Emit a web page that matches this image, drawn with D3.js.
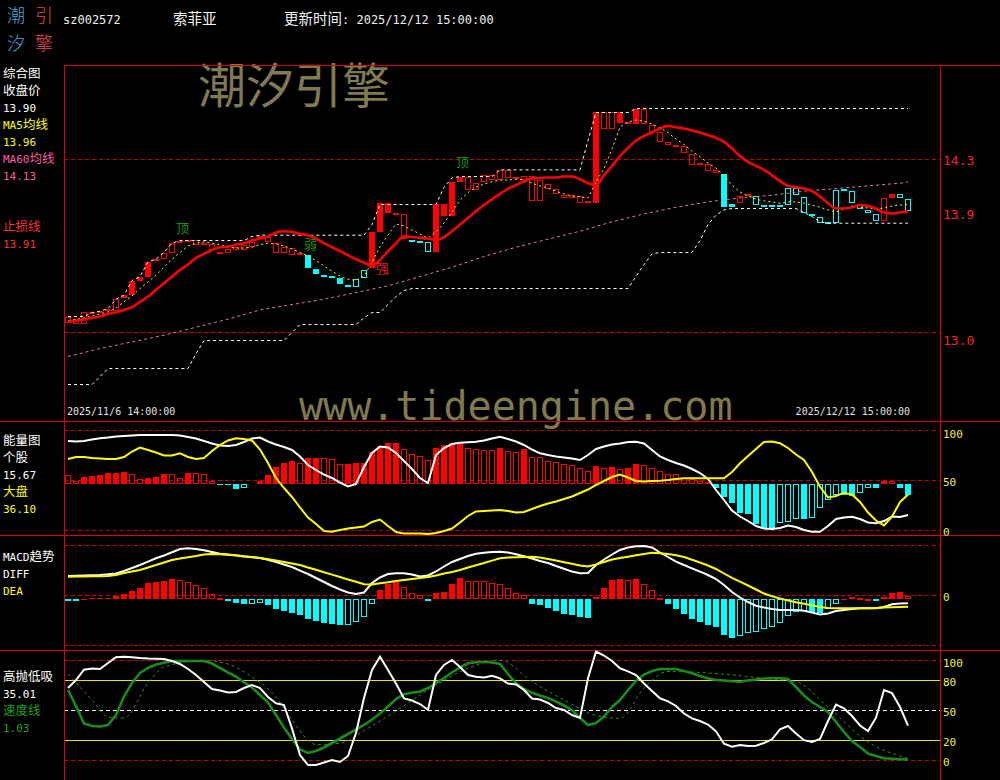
<!DOCTYPE html>
<html><head><meta charset="utf-8">
<script src="https://cdn.jsdelivr.net/npm/d3@7"></script>
<style>html,body{margin:0;padding:0;background:#000;overflow:hidden}</style>
</head><body>
<svg id="c" width="1000" height="780"></svg>
<script>
// ---------------- DATA ----------------
const stockCode = "sz002572";
const stockName = "索菲亚";
const updateText = "更新时间: 2025/12/12 15:00:00";
const startLabel = "2025/11/6 14:00:00";
const endLabel = "2025/12/12 15:00:00";

const openP = [
13.117,13.102,13.154,13.154,13.162,13.177,13.252,13.259,13.282,13.387,
13.417,13.552,13.597,13.672,13.687,13.679,13.694,13.672,13.664,13.604,
13.627,13.642,13.657,13.679,13.724,13.717,13.672,13.642,13.634,13.597,
13.582,13.477,13.432,13.424,13.409,13.357,13.342,13.409,13.484,13.754,
13.897,13.897,13.889,13.679,13.687,13.604,13.604,13.874,13.874,14.129,
14.167,14.122,14.182,14.182,14.219,14.219,14.167,14.174,14.174,14.144,
14.114,14.077,14.032,14.032,14.024,13.987,13.972,14.654,14.654,14.571,
14.579,14.564,14.677,14.556,14.504,14.429,14.407,14.399,14.339,14.272,
14.264,14.219,14.189,13.964,14.024,14.039,13.957,13.942,13.942,13.942,
13.957,14.032,13.897,13.889,13.822,13.814,13.822,14.062,13.972,13.927,
13.897,13.837,14.009,14.009,14.009,13.912];
const closeP = [
13.072,13.064,13.064,13.139,13.147,13.162,13.162,13.282,13.387,13.417,
13.529,13.537,13.552,13.597,13.672,13.694,13.657,13.657,13.619,13.589,
13.597,13.619,13.619,13.642,13.709,13.679,13.597,13.597,13.582,13.582,
13.484,13.439,13.417,13.409,13.364,13.342,13.402,13.469,13.754,13.972,
13.972,13.882,13.702,13.694,13.672,13.679,13.964,13.964,14.129,14.167,
14.069,14.069,14.129,14.144,14.144,14.159,14.152,14.144,13.987,13.987,
14.077,14.039,14.009,14.009,13.972,13.972,14.654,14.526,14.526,14.654,
14.564,14.677,14.564,14.504,14.429,14.407,14.392,14.346,14.257,14.257,
14.212,14.197,13.942,13.942,13.972,14.024,14.024,13.957,13.957,13.957,
14.084,14.084,14.017,13.874,13.867,13.829,14.069,14.077,14.062,13.964,
13.919,13.889,13.837,14.039,14.039,14.002];
// 1 = strong (red), -1 = weak (cyan)
const trend = [
1,1,1,1,1,1,1,1,1,1,
1,1,1,1,1,1,1,1,1,1,
1,1,1,1,1,1,1,1,1,1,
-1,-1,-1,-1,-1,-1,-1,-1,1,1,
1,1,1,-1,-1,-1,1,1,1,1,
1,1,1,1,1,1,1,1,1,1,
1,1,1,1,1,1,1,1,1,1,
1,1,1,1,1,1,1,1,1,1,
1,1,-1,-1,1,1,-1,-1,-1,-1,
-1,-1,-1,-1,-1,-1,-1,-1,-1,-1,
-1,-1,1,1,-1,-1];
const ma5 = [
13.09,13.10,13.11,13.124,13.14,13.154,13.184,13.23,13.274,13.33,
13.38,13.43,13.49,13.55,13.60,13.65,13.67,13.68,13.67,13.66,
13.64,13.634,13.634,13.64,13.66,13.67,13.664,13.65,13.627,13.60,
13.574,13.54,13.50,13.46,13.424,13.40,13.39,13.424,13.529,13.642,
13.732,13.814,13.799,13.769,13.739,13.709,13.754,13.822,13.904,13.994,
14.05,14.09,14.114,14.13,14.144,14.144,14.15,14.144,14.12,14.10,
14.084,14.06,14.04,14.024,14.017,14.01,14.13,14.23,14.38,14.54,
14.58,14.594,14.585,14.564,14.534,14.50,14.45,14.41,14.36,14.32,
14.27,14.234,14.174,14.105,14.054,14.024,14.00,13.987,13.98,13.97,
13.98,13.98,13.97,13.956,13.94,13.92,13.904,13.926,13.95,13.94,
13.934,13.926,13.934,13.95,13.956,13.96];
const stopLine = [
13.08,13.09,13.10,13.11,13.12,13.14,13.15,13.17,13.19,13.23,
13.27,13.32,13.37,13.42,13.47,13.51,13.56,13.59,13.62,13.64,
13.645,13.66,13.67,13.69,13.705,13.72,13.75,13.76,13.755,13.74,
13.73,13.705,13.67,13.64,13.61,13.58,13.55,13.525,13.50,13.545,
13.61,13.67,13.72,13.716,13.71,13.705,13.694,13.716,13.76,13.81,
13.86,13.91,13.956,14.00,14.04,14.08,14.105,14.135,14.155,14.16,
14.163,14.163,14.17,14.17,14.15,14.12,14.105,14.18,14.249,14.324,
14.385,14.44,14.475,14.50,14.53,14.55,14.54,14.53,14.515,14.50,
14.48,14.46,14.43,14.38,14.324,14.28,14.25,14.22,14.18,14.135,
14.10,14.09,14.08,14.06,14.02,13.97,13.93,13.93,13.94,13.956,
13.95,13.93,13.90,13.893,13.90,13.91];
const ma60Idx = [0,4,8,12,16,20,24,28,32,36,40,44,48,52,56,60,64,68,72,76,80,84,88,92,96,100,104,105];
const ma60 = [12.82,12.88,12.93,12.98,13.04,13.10,13.17,13.21,13.25,13.30,13.35,13.42,13.49,13.57,13.64,13.70,13.76,13.83,13.89,13.94,13.98,14.01,14.03,14.06,14.08,14.10,14.12,14.13];
const upperBand = [
13.12,13.12,13.12,13.15,13.16,13.18,13.25,13.28,13.39,13.42,
13.53,13.55,13.60,13.67,13.69,13.69,13.69,13.69,13.69,13.69,
13.69,13.69,13.69,13.72,13.73,13.73,13.73,13.73,13.73,13.73,
13.73,13.73,13.73,13.73,13.73,13.73,13.73,13.73,13.81,13.96,
13.96,13.96,13.96,13.96,13.96,13.96,13.96,14.09,14.16,14.17,
14.17,14.17,14.17,14.17,14.22,14.22,14.22,14.22,14.22,14.22,
14.22,14.22,14.22,14.22,14.22,14.44,14.65,14.65,14.65,14.65,
14.65,14.68,14.68,14.68,14.68,14.68,14.68,14.68,14.68,14.68,
14.68,14.68,14.68,14.68,14.68,14.68,14.68,14.68,14.68,14.68,
14.68,14.68,14.68,14.68,14.68,14.68,14.68,14.68,14.68,14.68,
14.68,14.68,14.68,14.68,14.68,14.68];
const lowerBand = [
12.61,12.61,12.61,12.61,12.67,12.73,12.73,12.73,12.73,12.73,
12.73,12.73,12.73,12.73,12.73,12.73,12.84,12.94,12.94,12.94,
12.94,12.94,12.94,12.94,12.94,12.94,12.94,12.94,13.00,13.06,
13.06,13.06,13.06,13.06,13.06,13.06,13.06,13.11,13.15,13.15,
13.21,13.27,13.315,13.33,13.33,13.33,13.33,13.33,13.33,13.33,
13.33,13.33,13.33,13.33,13.33,13.33,13.33,13.33,13.33,13.33,
13.33,13.33,13.33,13.33,13.33,13.33,13.33,13.33,13.33,13.33,
13.33,13.42,13.51,13.59,13.60,13.60,13.60,13.60,13.60,13.69,
13.81,13.88,13.92,13.93,13.93,13.93,13.93,13.93,13.93,13.93,
13.93,13.93,13.90,13.87,13.83,13.82,13.82,13.82,13.82,13.82,
13.82,13.82,13.82,13.82,13.82,13.82];
const signalIdx = [14, 49, 30, 39];
const signalPrice = [13.784, 14.279, 13.664, 13.484];
const signalText = ["顶", "顶", "弱", "强"];
const priceTicks = [14.3, 13.9, 12.955];
const priceGrid = [14.3, 13.0];

// energy panel (0-100)
const energyBase = 46.5;
const energyBar = [
55.7,50,53.4,54.7,55.7,57.4,58,58.7,56.4,51.4,
52.4,53.4,56.7,56.5,52.4,58,57.4,56.4,50,45.4,
45.4,42,42.3,46.5,50,55.7,63.4,68,70,67.4,
72.4,72.5,72.3,72.2,66.7,66.8,68,68.1,79,84.7,
87.4,88,81.4,76.7,74.7,70.7,82.4,85.7,88,89,
82.4,81.4,81.2,81,82.4,80,79,81.4,73.4,73.3,
70,68.7,66.7,65.7,62.4,60,64.7,62.4,63.4,61.4,
62.4,66.7,65.7,62.4,60,56.7,56.6,52.4,51.4,50,
49,42.4,33.4,27.4,18,16.4,6.7,1.4,1.3,8,
9,11.4,11.4,12.4,22.4,30.7,35.7,35.7,34.7,38,
42.4,42.4,50,49.8,42.4,35.7];
const energyStock = [
89.7,89.2,89.7,91.2,92.4,93.2,94.2,94.7,95.2,95.7,
95.7,95.7,95.7,95.7,95.2,93.7,92.2,89.7,87.2,85.2,
84.7,85.7,88.7,92.2,93.2,89.2,86.2,83.7,80.7,74.2,
65.7,60.7,56.2,52.7,48.2,44.2,46.7,63.7,77.7,84.2,
83.2,77.7,69.7,61.7,52.7,47.7,75.7,82.7,86.7,88,
88.4,88.9,90.2,92.2,94,91.7,89.2,85.7,81.2,77.4,
75.7,74.2,73.2,72.2,70.7,75.7,81.7,84.2,86.2,87.2,
88.7,89,87.2,80.7,74.2,70.7,67.7,65.2,61.7,57.7,
51.7,40.7,30.7,20.2,14.2,9.7,4.7,2.2,1.7,2.7,
5.2,3.7,0.7,-1,-1,4.7,11.7,13.2,14,11.7,
8.2,7.4,9.7,14.2,13.7,15.67];
const energyMarket = [
71.7,73.7,73.7,72.7,72.2,71.7,71.7,73.7,79.2,83.2,
80.7,78.2,75.2,75.2,77.4,73.7,71.7,72.7,79.7,85.7,
90.2,92.4,91.7,90.2,81.2,67.7,52.7,42.7,33.7,23.2,
13.2,6.7,-0.3,-1,0.7,2.2,3.2,4.2,8.7,11.2,
4.7,-1.3,-2.8,-2.8,-2.8,-3.3,-2.3,-0.3,2.2,8.2,
14.7,19.2,19.7,20.2,20.7,19.7,18.2,18.7,21.7,24.7,
27.2,29.2,31.7,34.2,37.7,41.2,45.7,49.7,53.7,56.2,
53.2,49.7,49.2,49.7,50,50.7,51.7,52.4,52.4,52.4,
52.4,52.4,52.4,58.7,67.4,74.7,81.7,88.7,89.2,87.4,
82.7,76.2,70.7,58.7,44,33.2,34.7,38,36.2,28.7,
18.2,10.2,5.2,14,28.7,36.1];
const energyTicks = [100, 50, 0];

// MACD panel
const macdBase = -0.018;
const macdHist = [
-0.027,-0.027,-0.014,-0.012,-0.012,-0.012,-0.002,0.009,0.025,0.040,
0.062,0.070,0.075,0.082,0.081,0.070,0.054,0.037,0.009,-0.013,
-0.027,-0.035,-0.043,-0.039,-0.038,-0.047,-0.067,-0.077,-0.088,-0.097,
-0.117,-0.127,-0.138,-0.143,-0.148,-0.147,-0.130,-0.105,-0.042,0.029,
0.059,0.070,0.045,0.015,0.004,-0.025,0.012,0.020,0.059,0.087,
0.075,0.0745,0.074,0.062,0.059,0.037,0.015,0.004,-0.042,-0.047,
-0.063,-0.077,-0.092,-0.097,-0.105,-0.110,-0.008,0.037,0.079,0.084,
0.0795,0.082,0.057,0.029,-0.013,-0.042,-0.067,-0.092,-0.117,-0.130,
-0.147,-0.155,-0.197,-0.210,-0.202,-0.185,-0.180,-0.168,-0.155,-0.135,
-0.102,-0.080,-0.075,-0.080,-0.088,-0.068,-0.042,-0.014,-0.008,-0.013,
-0.014,-0.025,-0.005,0.012,0.017,0];
const macdDiff = [
0.098,0.0995,0.101,0.102,0.1035,0.107,0.1115,0.1235,0.1385,0.1535,
0.170,0.187,0.201,0.217,0.2335,0.237,0.2335,0.227,0.2185,0.2095,
0.2055,0.201,0.1965,0.1925,0.1885,0.180,0.1685,0.156,0.1435,0.125,
0.1085,0.0885,0.0685,0.0485,0.031,0.016,0.0085,0.016,0.0635,0.091,
0.1085,0.112,0.112,0.106,0.096,0.101,0.121,0.146,0.1685,0.1835,
0.1985,0.2095,0.2145,0.2185,0.220,0.2155,0.207,0.1975,0.186,0.1735,
0.1635,0.1485,0.135,0.1205,0.112,0.1135,0.1535,0.181,0.206,0.2285,
0.241,0.2475,0.2485,0.241,0.216,0.1935,0.170,0.1535,0.137,0.120,
0.1035,0.0835,0.0535,0.0185,-0.009,-0.0315,-0.050,-0.059,-0.0665,-0.0715,
-0.0715,-0.0715,-0.075,-0.084,-0.094,-0.089,-0.0765,-0.0715,-0.0665,-0.063,
-0.063,-0.063,-0.0565,-0.043,-0.039,-0.038];
const macdDea = [
0.095,0.096,0.0965,0.097,0.0975,0.0985,0.1035,0.1135,0.121,0.1285,
0.141,0.1535,0.166,0.1785,0.186,0.192,0.1985,0.206,0.2085,0.207,
0.2045,0.202,0.1975,0.193,0.1885,0.1825,0.1755,0.1685,0.161,0.1535,
0.141,0.1295,0.1175,0.1055,0.0935,0.081,0.0695,0.0575,0.056,0.062,
0.067,0.0735,0.0785,0.0835,0.0885,0.0935,0.101,0.111,0.119,0.1285,
0.141,0.1525,0.1635,0.1755,0.187,0.191,0.1925,0.1935,0.195,0.191,
0.1835,0.1755,0.1675,0.1595,0.151,0.146,0.156,0.1685,0.181,0.1885,
0.195,0.202,0.2085,0.2145,0.2125,0.208,0.2025,0.1935,0.180,0.166,
0.151,0.1335,0.111,0.0895,0.070,0.051,0.031,0.011,-0.003,-0.014,
-0.024,-0.033,-0.0405,-0.048,-0.056,-0.0615,-0.063,-0.063,-0.063,-0.063,
-0.063,-0.0615,-0.0595,-0.0575,-0.056,-0.055];
const macdGrid = [0.25, 0, -0.25];
const macdTicks = [0];

// high-sell / low-buy panel
const gaodiLine = [
72.7,80.7,91,92.2,91.7,97.7,103.4,104,103.4,102.7,
102.2,102,101.7,99.7,96.7,91.7,85.7,78.7,71.7,70.2,
68.2,68.7,72.7,75.7,72.7,63.7,57.4,55.7,32.2,5.7,
-4.3,-4.3,-1.8,0.7,-1.3,4.7,27.7,62.7,90.7,104,
90.7,77.2,62.2,60.2,56.7,51,85.7,95.7,100.7,93.7,
85.7,83.9,83.2,84.9,82.4,77.2,76.2,70.7,62.2,61.2,
57.7,52.7,50.7,45.7,42.7,82.4,109.2,105.2,99.7,92.4,
89.3,85.7,77.2,69.7,62.4,59.3,54.7,47.2,42.3,39.7,
36.2,29.4,17,14,15.7,14.7,14.9,17.7,21.4,31.3,
34.7,27.2,20.5,18.7,21.7,39.7,56.2,52.4,44.7,35.2,
29.7,43,70.7,67.7,53.7,35.01];
const speedLine = [
70.7,54.7,37.2,34.7,34.2,35.7,45.7,64.2,77.7,87.7,
92.7,96.2,97.9,99.7,99.7,99.7,99.7,99.7,97.2,92.7,
88.2,84.2,78.4,73.2,65.7,58.2,45.7,33.2,21.7,11.2,
7.7,9.7,13.2,17.7,22.2,26.7,31.2,35.7,41.2,47.2,
54.2,61.7,66.4,67.9,69.2,72.7,77.7,82.7,88.2,93.2,
97.4,98.4,99,98.2,96.7,86.7,77.7,71.7,67.9,65.2,
62.7,59.2,55.2,50.7,42.7,35.7,37.7,44.2,53.7,60.7,
70.7,79.7,86.2,89.7,91.7,91.7,91.7,89.7,87.4,84.7,
82.2,80.7,80.2,79.5,79,80.2,81.2,82.2,82.4,82.4,
81.7,73.7,65.2,58.7,53.7,48.7,38.7,28.7,19.7,13.7,
7.2,4.7,2.4,1.9,1.4,1.03];
const speedSigIdx = [0,3,5,7,10,12,17,20,23,26,28,31,34,37,41,45,50,54,58,62,66,69,72,75,81,87,91,95,100,105];
const speedSig = [86.7,60.7,43.7,42.7,77.7,93.7,100.2,96.7,83.7,63.7,40.7,16.2,17.4,30.2,49.7,70.7,92.4,100.7,79,60.7,45.2,42.4,72.7,89.2,87.2,82.4,79,53.7,18.7,2.4];
const gaodiRedGrid = [100, 0];
const gaodiYellowGrid = [80, 20];
const gaodiWhiteGrid = [50];
const gaodiTicks = [100, 80, 50, 20, 0];

// left legends
const mainLegend = ["综合图","收盘价","13.90","MA5均线","13.96","MA60均线","14.13","止损线","13.91"];
const energyLegend = ["能量图","个股","15.67","大盘","36.10"];
const macdLegend = ["MACD趋势","DIFF","DEA"];
const gaodiLegend = ["高抛低吸","35.01","速度线","1.03"];
const logoChars = ["潮","引","汐","擎"];

// ---------------- DRAW ----------------
const RED = "#ff0000", CYAN = "#00ffff", YEL = "#ffff00", WHITE = "#ffffff";
const GRIDRED = "#c40000", BORDER = "#dd0000";
const MONO = '"DejaVu Sans Mono", monospace';
const CJK = '"Noto Sans CJK SC", sans-serif';

const svg = d3.select("#c");
svg.append("rect").attr("width",1000).attr("height",780).attr("fill","#000");

const N = openP.length;
const idx = d3.range(N);
const L = 64, R = 940;
const xb = d3.scaleBand().domain(idx).range([L, L + 8 * N]).padding(0);
const cx = i => xb(i) + xb.bandwidth() / 2;

const yP = d3.scaleLinear().domain([12.3365, 15.0065]).range([421, 65]);
const yE = d3.scaleLinear().domain([-4.3, 109.7]).range([535, 421]);
const yM = d3.scaleLinear().domain([-0.2715, 0.3035]).range([650, 535]);
const yG = d3.scaleLinear().domain([-19.3, 110.7]).range([780, 650]);

function mixText(parent, x, yc, str, o) {
  const t = parent.append("text").attr("x", x).attr("y", yc + 0.37 * o.cjk)
    .attr("fill", o.fill).attr("text-anchor", o.anchor || "start");
  const runs = str.match(/[\u3000-\u9fff\uff00-\uffef]+|[^\u3000-\u9fff\uff00-\uffef]+/g) || [];
  runs.forEach(r => {
    const isC = /[\u3000-\u9fff\uff00-\uffef]/.test(r);
    t.append("tspan").text(r).attr("font-family", isC ? CJK : MONO)
      .attr("font-size", isC ? o.cjk : o.ascii);
  });
  return t;
}

// watermarks
svg.append("text").attr("x", 198).attr("y", 103).attr("font-family", CJK)
  .attr("font-size", 48).attr("fill", "#7f7a52").text("潮汐引擎");
svg.append("text").attr("x", 299).attr("y", 420).attr("font-family", MONO)
  .attr("font-size", 40).attr("fill", "#7f7a4e").text("www.tideengine.com");

// logo (2 x 2 grid)
const logoCols = ["#4aa6dc", "#e24a4a"];
logoChars.forEach((ch, k) => {
  const col = k % 2, row = Math.floor(k / 2);
  svg.append("text").attr("x", 16 + 28 * col).attr("y", 22 + 28 * row).attr("text-anchor", "middle")
    .attr("font-family", CJK).attr("font-weight", 300).attr("font-size", 18)
    .attr("fill", logoCols[col]).text(ch);
});

// header
mixText(svg, 63, 19, stockCode, {ascii: 12, cjk: 14.5, fill: "#f0f0f0"});
mixText(svg, 173, 19, stockName, {ascii: 12, cjk: 14.5, fill: "#f0f0f0"});
mixText(svg, 284, 19, updateText, {ascii: 12, cjk: 14.5, fill: "#f0f0f0"});

// ---- grids ----
const grid = svg.append("g").attr("shape-rendering", "crispEdges");
function hline(y, color, dash, x1, x2) {
  grid.append("line").attr("x1", x1 ?? L).attr("x2", x2 ?? R)
    .attr("y1", Math.floor(y) + 0.5).attr("y2", Math.floor(y) + 0.5)
    .attr("stroke", color).attr("stroke-width", 1).attr("stroke-dasharray", dash || null);
}
priceGrid.forEach(v => hline(yP(v), GRIDRED, "4,3"));
energyTicks.forEach(v => hline(yE(v), GRIDRED, "4,3"));
macdGrid.forEach(v => hline(yM(v), GRIDRED, "4,3"));
gaodiRedGrid.forEach(v => hline(yG(v), GRIDRED, "4,3"));
gaodiYellowGrid.forEach(v => hline(yG(v), "#e6e600"));
gaodiWhiteGrid.forEach(v => hline(yG(v), WHITE, "4,3"));

// borders
hline(65, BORDER, null, L, 1000);
hline(yE.range()[1], BORDER, null, 0, 1000);
hline(yM.range()[1], BORDER, null, 0, 1000);
hline(yG.range()[1], BORDER, null, 0, 1000);
grid.append("line").attr("x1", L + 0.5).attr("x2", L + 0.5).attr("y1", 65).attr("y2", 780).attr("stroke", BORDER);
grid.append("line").attr("x1", R + 0.5).attr("x2", R + 0.5).attr("y1", 65).attr("y2", 780).attr("stroke", BORDER);

// ---- main panel ----
const gm = svg.append("g");
const candles = gm.append("g").attr("shape-rendering", "crispEdges");
idx.forEach(i => {
  const o = openP[i], c = closeP[i], up = c > o, red = trend[i] > 0;
  const col = red ? RED : CYAN;
  const filled = up === red;
  const yt = yP(Math.max(o, c)), ybm = yP(Math.min(o, c));
  const h = Math.max(1, ybm - yt);
  if (filled) {
    candles.append("rect").attr("x", xb(i) + 1).attr("y", yt).attr("width", 6).attr("height", h).attr("fill", col);
  } else {
    candles.append("rect").attr("x", xb(i) + 1.5).attr("y", yt + 0.5).attr("width", 5)
      .attr("height", Math.max(h - 1, 1)).attr("fill", "none").attr("stroke", col).attr("stroke-width", 1);
  }
});
const lineP = d3.line().x((d, i) => cx(i)).y(d => yP(d));
gm.append("path").attr("d", d3.line().x((d, k) => cx(ma60Idx[k])).y(d => yP(d))(ma60))
  .attr("fill", "none").attr("stroke", "#dc7aa2").attr("stroke-width", 1).attr("stroke-dasharray", "3,3");
gm.append("path").attr("d", lineP(upperBand)).attr("fill", "none").attr("stroke", WHITE)
  .attr("stroke-width", 1).attr("stroke-dasharray", "3,3");
gm.append("path").attr("d", lineP(lowerBand)).attr("fill", "none").attr("stroke", WHITE)
  .attr("stroke-width", 1).attr("stroke-dasharray", "3,3");
gm.append("path").attr("d", lineP(ma5)).attr("fill", "none").attr("stroke", YEL)
  .attr("stroke-width", 1).attr("stroke-dasharray", "2,3");
gm.append("path").attr("d", d3.line().curve(d3.curveMonotoneX).x((d, i) => cx(i)).y(d => yP(d))(stopLine))
  .attr("fill", "none").attr("stroke", RED).attr("stroke-width", 2.6);
signalIdx.forEach((bi, k) => {
  svg.append("text").attr("x", xb(bi)).attr("y", yP(signalPrice[k]) + 5)
    .attr("font-family", CJK).attr("font-size", 13)
    .attr("fill", signalText[k] === "强" ? "#e82020" : "#169016").text(signalText[k]);
});
svg.append("text").attr("x", 67).attr("y", 415).attr("font-family", MONO).attr("font-size", 10)
  .attr("fill", "#e0e0e0").text(startLabel);
svg.append("text").attr("x", cx(N - 1) + 2).attr("y", 415).attr("text-anchor", "end").attr("font-family", MONO)
  .attr("font-size", 10).attr("fill", "#e0e0e0").text(endLabel);

// ---- histogram helper ----
function hist(g, vals, base, y) {
  const hg = g.append("g").attr("shape-rendering", "crispEdges");
  vals.forEach((v, i) => {
    const d = v - base;
    if (d === 0) return;
    const col = d > 0 ? RED : CYAN;
    const pd = i > 0 ? vals[i - 1] - base : 0;
    const filled = i > 0 && (Math.sign(pd) !== Math.sign(d) || Math.abs(d) >= Math.abs(pd));
    const y0 = y(base), y1 = y(v);
    const top = Math.min(y0, y1), h = Math.max(1, Math.abs(y1 - y0));
    if (filled) {
      hg.append("rect").attr("x", xb(i) + 1).attr("y", top).attr("width", 6).attr("height", h).attr("fill", col);
    } else {
      hg.append("rect").attr("x", xb(i) + 1.5).attr("y", top + 0.5).attr("width", 5)
        .attr("height", Math.max(h - 1, 1)).attr("fill", "none").attr("stroke", col);
    }
  });
}

// ---- energy panel ----
const ge = svg.append("g");
hist(ge, energyBar, energyBase, yE);
const lineE = d3.line().x((d, i) => cx(i)).y(d => yE(d));
ge.append("path").attr("d", lineE(energyStock)).attr("fill", "none").attr("stroke", WHITE).attr("stroke-width", 2);
ge.append("path").attr("d", lineE(energyMarket)).attr("fill", "none").attr("stroke", YEL).attr("stroke-width", 2);

// ---- MACD panel ----
const gmc = svg.append("g");
hist(gmc, macdHist, macdBase, yM);
const lineM = d3.line().x((d, i) => cx(i)).y(d => yM(d));
gmc.append("path").attr("d", lineM(macdDiff)).attr("fill", "none").attr("stroke", WHITE).attr("stroke-width", 2);
gmc.append("path").attr("d", lineM(macdDea)).attr("fill", "none").attr("stroke", YEL).attr("stroke-width", 2);

// ---- gaodi panel ----
const gg = svg.append("g");
gg.append("path").attr("d", d3.line().curve(d3.curveMonotoneX).x((d, k) => cx(speedSigIdx[k])).y(d => yG(d))(speedSig))
  .attr("fill", "none").attr("stroke", "#2e8a2e").attr("stroke-width", 1).attr("stroke-dasharray", "3,3");
const lineG = d3.line().x((d, i) => cx(i)).y(d => yG(d));
gg.append("path").attr("d", lineG(speedLine)).attr("fill", "none").attr("stroke", "#1c8a1c").attr("stroke-width", 2.6);
gg.append("path").attr("d", lineG(gaodiLine)).attr("fill", "none").attr("stroke", WHITE).attr("stroke-width", 2);

// ---- right axis labels ----
const fmt1 = d3.format(".1f");
priceTicks.forEach(v => svg.append("text").attr("x", 943).attr("y", yP(v) + 1.5 + 4.7)
  .attr("font-family", MONO).attr("font-size", 13).attr("fill", "#ff2020").text(fmt1(v)));
function yLabels(ticks, y, top) {
  ticks.forEach(v => {
    const yc = Math.max(y(v) + 1, top + 13);
    svg.append("text").attr("x", 943).attr("y", yc + 4).attr("font-family", MONO)
      .attr("font-size", 11).attr("fill", "#f0f040").text(v);
  });
}
yLabels(energyTicks, yE, yE.range()[1]);
yLabels(macdTicks, yM, yM.range()[1]);
yLabels(gaodiTicks, yG, yG.range()[1]);

// ---- left legends ----
const legOpt = (fill) => ({ascii: 11, cjk: 12.5, fill});
const mainRows = [0,1,2,3,4,5,6,9,10];
const mainCols = [WHITE, WHITE, WHITE, YEL, YEL, "#ff5aa5", "#ff5aa5", "#ff3030", "#ff3030"];
mainLegend.forEach((t, k) => mixText(svg, 3, 73 + 17 * mainRows[k], t, legOpt(mainCols[k])));
const eCols = [WHITE, WHITE, WHITE, YEL, YEL];
energyLegend.forEach((t, k) => mixText(svg, 3, 440.7 + 17 * k, t, legOpt(eCols[k])));
const mCols = [WHITE, WHITE, YEL];
macdLegend.forEach((t, k) => mixText(svg, 3, 556 + 17 * k, t, legOpt(mCols[k])));
const gCols = [WHITE, WHITE, "#22a022", "#22a022"];
gaodiLegend.forEach((t, k) => mixText(svg, 3, 676.7 + 17 * k, t, legOpt(gCols[k])));
</script>
</body></html>
